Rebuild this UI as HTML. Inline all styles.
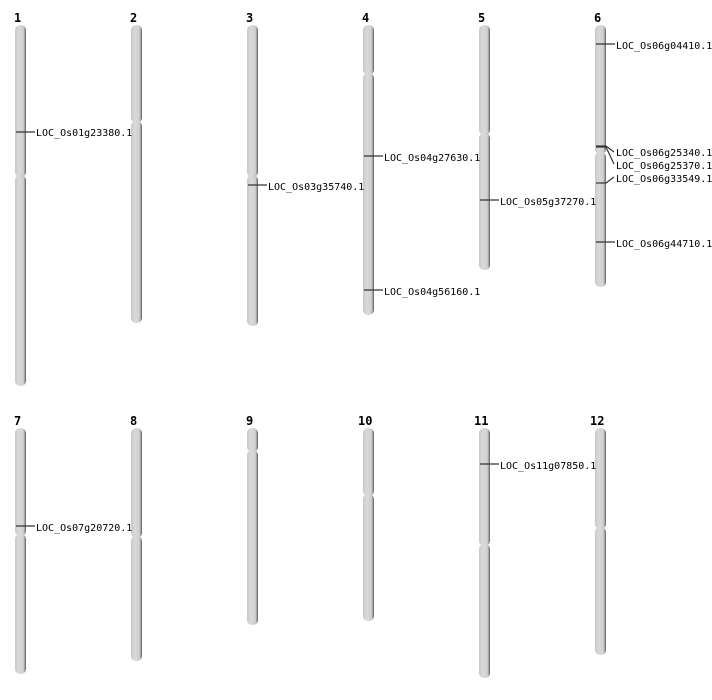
<!DOCTYPE html>
<html><head><style>body{margin:0;background:#fff}svg{display:block}</style></head><body>
<svg width="712" height="700" xmlns="http://www.w3.org/2000/svg" font-family="'DejaVu Sans Mono','Liberation Mono',monospace">
<defs>
<linearGradient id="g" x1="0" x2="1" y1="0" y2="0">
<stop offset="0" stop-color="#c8c8c8"/><stop offset="0.35" stop-color="#dadada"/><stop offset="0.75" stop-color="#d0d0d0"/><stop offset="0.9" stop-color="#999"/><stop offset="1" stop-color="#555"/>
</linearGradient>
</defs>
<g fill="url(#g)">
<rect x="15" y="25" width="11" height="152" rx="5"/><rect x="15" y="175" width="11" height="211" rx="5"/>
<rect x="131" y="25" width="11" height="98" rx="5"/><rect x="131" y="121" width="11" height="202" rx="5"/>
<rect x="247" y="25" width="11" height="152" rx="5"/><rect x="247" y="175" width="11" height="151" rx="5"/>
<rect x="363" y="25" width="11" height="50" rx="5"/><rect x="363" y="73" width="11" height="242" rx="5"/>
<rect x="479" y="25" width="11" height="110" rx="5"/><rect x="479" y="133" width="11" height="137" rx="5"/>
<rect x="595" y="25" width="11" height="129" rx="5"/><rect x="595" y="152" width="11" height="135" rx="5"/>
<rect x="15" y="428" width="11" height="108" rx="5"/><rect x="15" y="534" width="11" height="140" rx="5"/>
<rect x="131" y="428" width="11" height="110" rx="5"/><rect x="131" y="536" width="11" height="125" rx="5"/>
<rect x="247" y="428" width="11" height="24" rx="5"/><rect x="247" y="450" width="11" height="175" rx="5"/>
<rect x="363" y="428" width="11" height="68" rx="5"/><rect x="363" y="494" width="11" height="127" rx="5"/>
<rect x="479" y="428" width="11" height="118" rx="5"/><rect x="479" y="544" width="11" height="134" rx="5"/>
<rect x="595" y="428" width="11" height="101" rx="5"/><rect x="595" y="527" width="11" height="128" rx="5"/>
</g>
<g font-size="12" font-weight="bold" fill="#000">
<text x="14" y="22">1</text><text x="130" y="22">2</text><text x="246" y="22">3</text><text x="362" y="22">4</text><text x="478" y="22">5</text><text x="594" y="22">6</text>
<text x="14" y="425">7</text><text x="130" y="425">8</text><text x="246" y="425">9</text><text x="358" y="425">10</text><text x="474" y="425">11</text><text x="590" y="425">12</text>
</g>
<g stroke="#333" stroke-width="1.2" fill="none">
<line x1="16" y1="132" x2="35" y2="132"/>
<line x1="248" y1="185" x2="267" y2="185"/>
<line x1="364" y1="156" x2="383" y2="156"/>
<line x1="364" y1="290" x2="383" y2="290"/>
<line x1="480" y1="200" x2="499" y2="200"/>
<line x1="596" y1="44" x2="615" y2="44"/>
<line x1="596" y1="146" x2="606" y2="146"/><line x1="606" y1="146" x2="614" y2="152"/>
<line x1="596" y1="147" x2="606" y2="147"/><line x1="606" y1="147" x2="614" y2="164"/>
<line x1="596" y1="183" x2="606" y2="183"/><line x1="606" y1="183" x2="614" y2="177"/>
<line x1="596" y1="242" x2="615" y2="242"/>
<line x1="16" y1="526" x2="35" y2="526"/>
<line x1="480" y1="464" x2="499" y2="464"/>
</g>
<g font-size="10" fill="#000">
<text x="36" y="136">LOC_Os01g23380.1</text>
<text x="268" y="190">LOC_Os03g35740.1</text>
<text x="384" y="161">LOC_Os04g27630.1</text>
<text x="384" y="295">LOC_Os04g56160.1</text>
<text x="500" y="205">LOC_Os05g37270.1</text>
<text x="616" y="49">LOC_Os06g04410.1</text>
<text x="616" y="156">LOC_Os06g25340.1</text>
<text x="616" y="169">LOC_Os06g25370.1</text>
<text x="616" y="182">LOC_Os06g33549.1</text>
<text x="616" y="247">LOC_Os06g44710.1</text>
<text x="36" y="531">LOC_Os07g20720.1</text>
<text x="500" y="469">LOC_Os11g07850.1</text>
</g>
</svg>
</body></html>
